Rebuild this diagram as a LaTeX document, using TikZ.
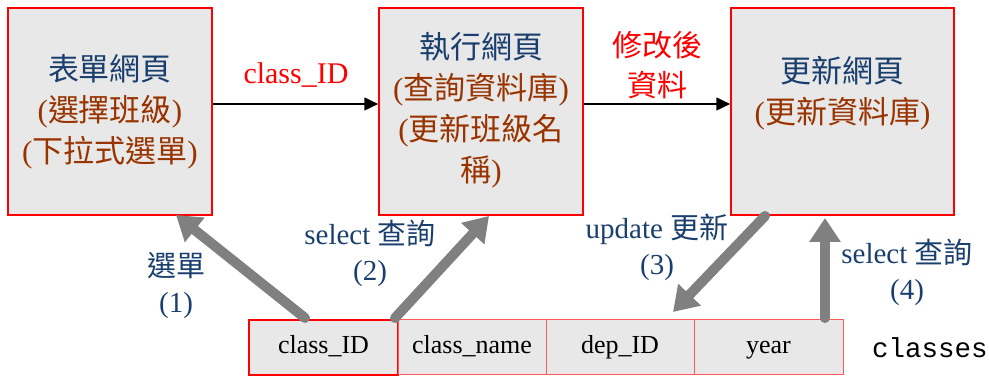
\documentclass[tikz,border=0pt]{standalone}
\usepackage{fontspec}
\setmainfont{Liberation Serif}
\newfontfamily\cjk{Noto Sans CJK TC}
\newfontfamily\monofnt{Liberation Mono}
\usetikzlibrary{arrows.meta}
\definecolor{tblue}{HTML}{1A3F6E}
\definecolor{tbrown}{HTML}{993300}
\definecolor{boxgray}{HTML}{E8E8E8}
\definecolor{arrgray}{HTML}{808080}
\newcommand{\zh}[1]{{\cjk #1}}
\tikzset{
  pagebox/.style={draw=red, fill=boxgray, line width=1.5pt, minimum width=204pt, minimum height=207pt, inner sep=0pt},
  boxtext/.style={align=center, font=\fontsize{31}{41}\selectfont, inner sep=0pt},
  redlabel/.style={align=center, text=red, font=\fontsize{30}{40}\selectfont, inner sep=0pt},
  bluelabel/.style={align=center, text=tblue, font=\fontsize{29}{36}\selectfont, inner sep=0pt},
  cell/.style={draw=red!65, fill=boxgray, line width=1pt, minimum width=148pt, minimum height=55pt, inner sep=0pt, text height=18pt, text depth=6pt, font=\fontsize{26}{30}\selectfont},
  keycell/.style={cell, draw=red, line width=2.5pt},
  flow/.style={-{Triangle[length=14pt,width=13pt]}, line width=1.5pt, black},
  bigarrow/.style={-{Triangle[length=24pt,width=30pt]}, line width=10pt, arrgray, line cap=round},
}
\begin{document}
\begin{tikzpicture}[x=1pt,y=1pt]
\useasboundingbox (0,0) rectangle (989,379);
% page boxes
\node[pagebox] (b1) at (110,267.5) {};
\node[pagebox] (b2) at (481,267.5) {};
\node[pagebox, minimum width=223pt] (b3) at (842.5,267.5) {};
\node[boxtext] (t1) at (110,267) {\textcolor{tblue}{\zh{表單網頁}}\\ \textcolor{tbrown}{(\zh{選擇班級})}\\ \textcolor{tbrown}{(\zh{下拉式選單})}};
\node[boxtext] (t2) at (481,269) {\textcolor{tblue}{\zh{執行網頁}}\\ \textcolor{tbrown}{(\zh{查詢資料庫})}\\ \textcolor{tbrown}{(\zh{更新班級名}}\\ \textcolor{tbrown}{\zh{稱})}};
\node[boxtext] (t3) at (842.5,286) {\textcolor{tblue}{\zh{更新網頁}}\\ \textcolor{tbrown}{(\zh{更新資料庫})}};
% flow arrows
\draw[flow] (b1.east |- 0,275) -- (b2.west |- 0,275);
\draw[flow] (b2.east |- 0,275) -- (b3.west |- 0,275);
\node[redlabel] (l1) at (296,304) {class\_ID};
\node[redlabel] (l2) at (657,314) {\zh{修改後}\\ \zh{資料}};
% table
\node[keycell, minimum width=149pt] (c1) at (323.5,31.5) {class\_ID};
\node[cell] (c2) at (472,31.5) {class\_name};
\node[cell] (c3) at (620,31.5) {dep\_ID};
\node[cell, minimum width=149pt] (c4) at (768.5,31.5) {year};
\node[font=\monofnt\fontsize{27.5}{30}\selectfont, inner sep=0pt] (cls) at (930,31) {classes};
% big gray arrows
\coordinate (a1s) at (305,61);
\coordinate (a1e) at (176,164);
\coordinate (a2s) at (395,61);
\coordinate (a2e) at (489,163);
\coordinate (a3s) at (765,163);
\coordinate (a3e) at (673,67);
\coordinate (a4s) at (825,61);
\coordinate (a4e) at (825,161);
\draw[bigarrow] (a1s) -- (a1e);
\draw[bigarrow] (a2s) -- (a2e);
\draw[bigarrow] (a3s) -- (a3e);
\draw[bigarrow] (a4s) -- (a4e);
% labels
\node[bluelabel] (g1) at (176,94) {\zh{選單}\\ (1)};
\node[bluelabel] (g2) at (370,126) {select \zh{查詢}\\ (2)};
\node[bluelabel] (g3) at (657,132) {update \zh{更新}\\ (3)};
\node[bluelabel] (g4) at (907,107) {select \zh{查詢}\\ (4)};
\end{tikzpicture}
\end{document}
